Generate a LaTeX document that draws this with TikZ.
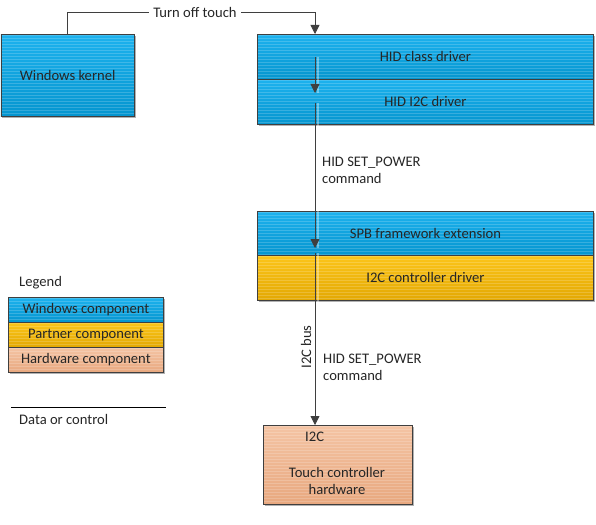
\documentclass[tikz,border=0pt]{standalone}
\usepackage{fontspec}
\setmainfont{Carlito}
\usetikzlibrary{arrows.meta,shadows}
\definecolor{bluetop}{HTML}{1DB2EE}
\definecolor{bluebot}{HTML}{0595CF}
\definecolor{yeltop}{HTML}{FCC51A}
\definecolor{yelbot}{HTML}{E3A803}
\definecolor{ortop}{HTML}{F4C4A4}
\definecolor{orbot}{HTML}{E8A87F}
\definecolor{linecol}{HTML}{3F3F3F}
\tikzset{
  stripes/.style={path picture={
      \foreach \k in {0,3,...,120}{
        \draw[white,opacity=0.18,line width=0.9pt]
          ([yshift=-\k pt-1pt]path picture bounding box.north west) --
          ([yshift=-\k pt-1pt]path picture bounding box.north east);}}},
  comp/.style={draw=linecol, line width=0.8pt, inner sep=0pt, anchor=north west,
    font=\fontsize{14.6}{17}\selectfont, text=black!85, stripes},
  shad/.style={drop shadow={shadow xshift=1.5pt, shadow yshift=-1.5pt, opacity=0.3, fill=black}},
  winbox/.style={comp, top color=bluetop, bottom color=bluebot},
  partbox/.style={comp, top color=yeltop, bottom color=yelbot},
  hwbox/.style={comp, top color=ortop, bottom color=orbot},
  conn/.style={draw=linecol, line width=0.8pt, -{Triangle[width=9pt,length=9pt]}},
  glowconn/.style={conn, preaction={draw=white, draw opacity=0.35, line width=2pt,
      transform canvas={xshift=3pt}, arrows=-}},
  lbl/.style={font=\fontsize{14.6}{17}\selectfont, text=black!85, inner sep=1pt},
}
\begin{document}
\begin{tikzpicture}[x=1pt,y=-1pt]
\useasboundingbox (0,0) rectangle (596,524);
% boxes
\node[winbox, shad, minimum width=133.5pt, minimum height=82pt] (kernel) at (0.5,34) {Windows kernel};
\node[winbox, shad, minimum width=336pt, minimum height=90pt] (hidframe) at (257,34) {};
\node[winbox, minimum width=336pt, minimum height=45pt] (hidclass) at (257,34) {HID class driver};
\node[winbox, minimum width=336pt, minimum height=45pt] (hidi2c) at (257,79) {HID I2C driver};
\node[winbox, shad, minimum width=336pt, minimum height=89pt] (spbframe) at (257,211) {};
\node[winbox, minimum width=336pt, minimum height=44pt] (spb) at (257,211) {SPB framework extension};
\node[partbox, minimum width=336pt, minimum height=45pt] (i2cctl) at (257,255) {I2C controller driver};
\node[hwbox, shad, minimum width=149pt, minimum height=79pt] (touch) at (263,425) {};
\node[lbl, anchor=west] (touchi2c) at (304,437) {I2C};
\node[lbl, align=center] (touchtxt) at (337,481) {Touch controller\\hardware};
% legend
\node[lbl, anchor=west] (legend) at (18,283) {Legend};
\node[winbox, shad, minimum width=155pt, minimum height=75pt] (lgframe) at (8,297) {};
\node[winbox, minimum width=155pt, minimum height=25pt] (lgwin) at (8,297) {Windows component};
\node[partbox, minimum width=155pt, minimum height=25pt] (lgpart) at (8,322) {Partner component};
\node[hwbox, minimum width=155pt, minimum height=25pt] (lghw) at (8,347) {Hardware component};
\coordinate (dcl) at (11,407);
\coordinate (dcr) at (166,407);
\draw[black, line width=0.8pt] (dcl) -- (dcr);
\node[lbl, anchor=west] (dctxt) at (18,419) {Data or control};
% connectors
\coordinate (kt) at (67,34);
\coordinate (k1) at (67,12);
\coordinate (h0) at (315,34);
\draw[conn] (kt) -- (k1) -- node[lbl, fill=white, inner xsep=4pt, pos=0.516] (turnoff) {Turn off touch} (k1 -| h0) -- (h0);
\coordinate (a1) at (315,57);
\coordinate (a2) at (315,93);
\draw[glowconn] (a1) -- (a2);
\coordinate (b1) at (315,103);
\coordinate (b2) at (315,248);
\draw[glowconn] (b1) -- (b2);
\coordinate (c1) at (315,253);
\coordinate (c2) at (315,425);
\draw[glowconn] (c1) -- (c2);
\node[lbl, anchor=west, align=left] (cmd1) at (321,170.5) {HID SET\_POWER\\command};
\node[lbl, anchor=west, align=left] (cmd2) at (322,367) {HID SET\_POWER\\command};
\node[lbl, rotate=90] (busl) at (306,347) {I2C bus};
\end{tikzpicture}
\end{document}
